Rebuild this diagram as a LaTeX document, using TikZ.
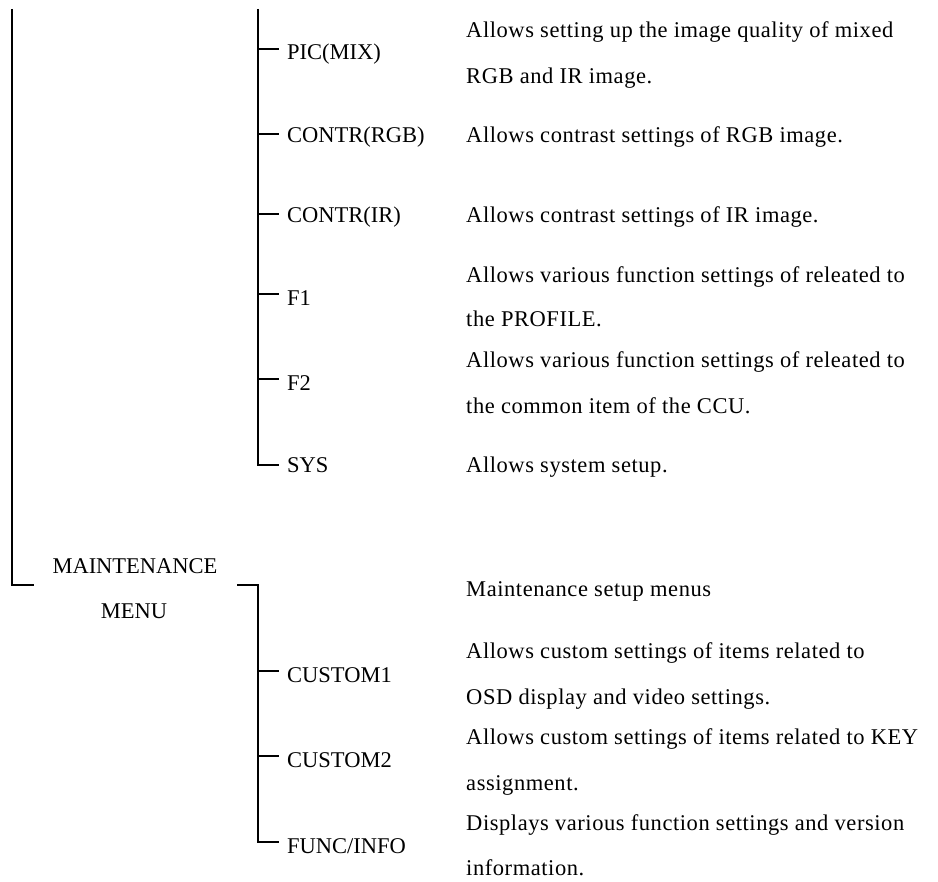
\documentclass[tikz,border=0pt]{standalone}
\usepackage{fontspec}
\setmainfont{Liberation Serif}
\newfontfamily\descfont[LetterSpace=2.5]{Liberation Serif}
\begin{document}
\begin{tikzpicture}[x=1pt,y=-1pt,
  line/.style={line width=1.6pt,black},
  lbl/.style={anchor=base west,inner sep=0pt,font=\fontsize{22.5}{27}\selectfont},
  desc/.style={anchor=base west,inner sep=0pt,font=\descfont\fontsize{22.5}{27}\selectfont},
  mtext/.style={anchor=base,inner sep=0pt,font=\fontsize{22.5}{27}\selectfont}]
\useasboundingbox (0,0) rectangle (938,882);
% trunk coordinates
\coordinate (ltop) at (12,9);
\coordinate (lcorner) at (12,585);
\coordinate (lend) at (34,585);
\coordinate (mtop) at (258,9);
\coordinate (mbot) at (258,465);
\coordinate (bstart) at (237,585);
\coordinate (bcorner) at (258,585);
\coordinate (bbot) at (258,842);
% maintenance node
\node[mtext] (maint) at (135,573) {MAINTENANCE};
\node[mtext] (menu) at (134,619) {MENU};
% upper labels
\node[lbl] (pic) at (287,60) {PIC(MIX)};
\node[lbl] (crgb) at (287,143) {CONTR(RGB)};
\node[lbl] (cir) at (287,223) {CONTR(IR)};
\node[lbl] (f1) at (287,306) {F1};
\node[lbl] (f2) at (287,391) {F2};
\node[lbl] (sys) at (287,473) {SYS};
% lower labels
\node[lbl] (c1) at (287,682) {CUSTOM1};
\node[lbl] (c2) at (287,767) {CUSTOM2};
\node[lbl] (fi) at (287,853) {FUNC/INFO};
% tick coordinates
\foreach \n/\y in {tpic/49,tcrgb/134,tcir/214,tf1/294,tf2/379,tsys/465,tc1/671,tc2/756,tfi/842}{
  \coordinate (\n a) at (258,\y);
  \coordinate (\n b) at (279,\y);
}
% descriptions
\node[desc] (dpic1) at (466,38) {Allows setting up the image quality of mixed};
\node[desc] (dpic2) at (466,84) {RGB and IR image.};
\node[desc] (dcrgb) at (466,143) {Allows contrast settings of RGB image.};
\node[desc] (dcir) at (466,223) {Allows contrast settings of IR image.};
\node[desc] (df1a) at (466,283) {Allows various function settings of releated to};
\node[desc] (df1b) at (466,327) {the PROFILE.};
\node[desc] (df2a) at (466,368) {Allows various function settings of releated to};
\node[desc] (df2b) at (466,414) {the common item of the CCU.};
\node[desc] (dsys) at (466,473) {Allows system setup.};
\node[desc] (dmnt) at (466,597) {Maintenance setup menus};
\node[desc] (dc1a) at (466,659) {Allows custom settings of items related to};
\node[desc] (dc1b) at (466,704) {OSD display and video settings.};
\node[desc] (dc2a) at (466,744) {Allows custom settings of items related to KEY};
\node[desc] (dc2b) at (466,790) {assignment.};
\node[desc] (dfia) at (466,830) {Displays various function settings and version};
\node[desc] (dfib) at (466,875) {information.};
% lines
\draw[line] (ltop) -- (lcorner) -- (lend);
\draw[line] (mtop) -- (mbot) -- (tsysb);
\draw[line] (bstart) -- (bcorner) -- (bbot) -- (tfib);
\foreach \n in {tpic,tcrgb,tcir,tf1,tf2,tc1,tc2}{
  \draw[line] (\n a) -- (\n b);
}
\end{tikzpicture}
\end{document}
